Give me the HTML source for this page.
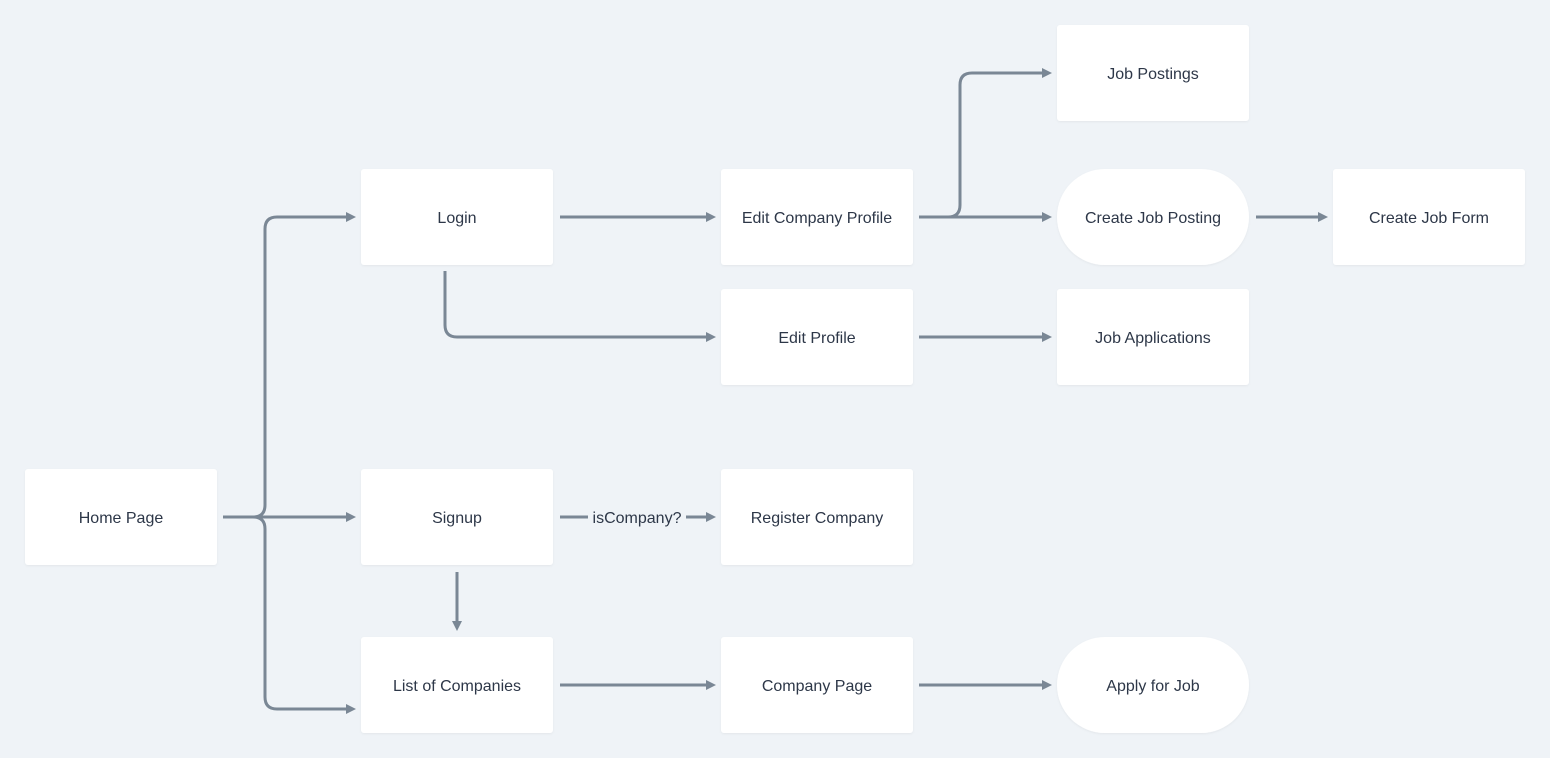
<!DOCTYPE html>
<html><head><meta charset="utf-8"><style>
html,body{margin:0;padding:0;background:#eff3f7;}
svg{display:block}
text{font-family:"Liberation Sans",sans-serif;font-size:16px;fill:#2d3748;}
</style></head><body>
<svg width="1550" height="758" viewBox="0 0 1550 758" xmlns="http://www.w3.org/2000/svg">
<defs>
<marker id="a" viewBox="0 0 10 10" refX="0" refY="5" markerWidth="10" markerHeight="10" markerUnits="userSpaceOnUse" orient="auto">
<path d="M0 0 L10 5 L0 10 z" fill="#7a8795"/>
</marker>
<filter id="s" x="-5%" y="-5%" width="110%" height="115%"><feDropShadow dx="0" dy="1" stdDeviation="1" flood-color="#000" flood-opacity="0.05"/></filter>
</defs>
<g fill="none" stroke="#7a8795" stroke-width="3" marker-end="url(#a)">
<path d="M223 517 H253 Q265 517 265 505 V229 Q265 217 277 217 H346"/>
<path d="M223 517 H346"/>
<path d="M253 517 Q265 517 265 529 V697 Q265 709 277 709 H346"/>
<path d="M560 217 H706"/>
<path d="M445 271 V325 Q445 337 457 337 H706"/>
<path d="M919 217 H948 Q960 217 960 205 V85 Q960 73 972 73 H1042"/>
<path d="M919 217 H1042"/>
<path d="M1256 217 H1318"/>
<path d="M919 337 H1042"/>
<path d="M560 517 H706"/>
<path d="M457 572 V621"/>
<path d="M560 685 H706"/>
<path d="M919 685 H1042"/>
</g>
<rect x="588" y="505" width="98" height="24" fill="#eff3f7"/>
<text x="637" y="523" text-anchor="middle">isCompany?</text>
<g fill="#fff" filter="url(#s)">
<rect x="1057" y="25" width="192" height="96" rx="3"/>
<rect x="361" y="169" width="192" height="96" rx="3"/>
<rect x="721" y="169" width="192" height="96" rx="3"/>
<rect x="1057" y="169" width="192" height="96" rx="48"/>
<rect x="1333" y="169" width="192" height="96" rx="3"/>
<rect x="721" y="289" width="192" height="96" rx="3"/>
<rect x="1057" y="289" width="192" height="96" rx="3"/>
<rect x="25" y="469" width="192" height="96" rx="3"/>
<rect x="361" y="469" width="192" height="96" rx="3"/>
<rect x="721" y="469" width="192" height="96" rx="3"/>
<rect x="361" y="637" width="192" height="96" rx="3"/>
<rect x="721" y="637" width="192" height="96" rx="3"/>
<rect x="1057" y="637" width="192" height="96" rx="48"/>
</g>
<g text-anchor="middle">
<text x="1153" y="79">Job Postings</text>
<text x="457" y="223">Login</text>
<text x="817" y="223">Edit Company Profile</text>
<text x="1153" y="223">Create Job Posting</text>
<text x="1429" y="223">Create Job Form</text>
<text x="817" y="343">Edit Profile</text>
<text x="1153" y="343">Job Applications</text>
<text x="121" y="523">Home Page</text>
<text x="457" y="523">Signup</text>
<text x="817" y="523">Register Company</text>
<text x="457" y="691">List of Companies</text>
<text x="817" y="691">Company Page</text>
<text x="1153" y="691">Apply for Job</text>
</g>
</svg>
</body></html>
